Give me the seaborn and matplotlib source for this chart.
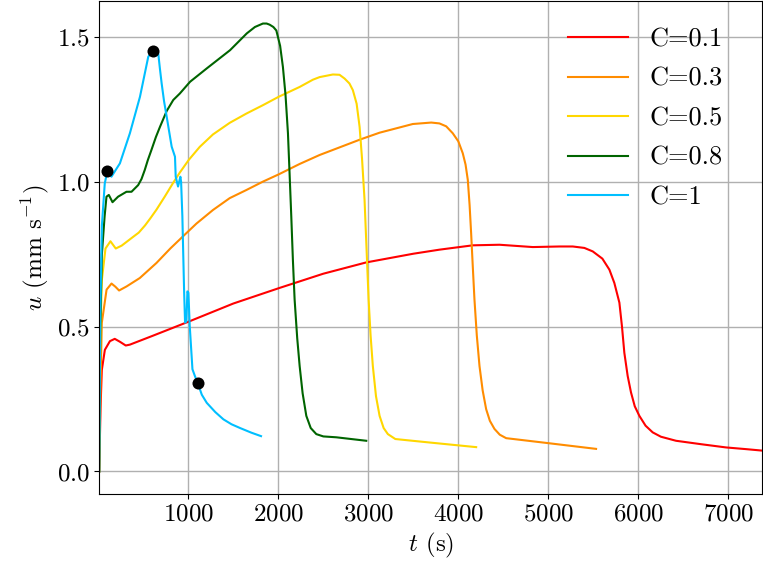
import pandas as pd
import matplotlib
matplotlib.use("Agg")
import matplotlib.pyplot as plt
import seaborn as sns

# -------------------------------------------------------
# Data
# -------------------------------------------------------
t_01 = [10, 25, 39, 73, 129, 183, 240, 305, 351, 600, 1016, 1500, 2015, 2500, 2977,
        3500, 3790, 4160, 4457, 4827, 5123, 5271, 5400, 5493, 5600, 5678, 5733, 5789,
        5818, 5844, 5881, 5918, 5960, 6011, 6080, 6159, 6250, 6418, 6700, 6973, 7200,
        7376]
u_01 = [0.0, 0.22, 0.35, 0.42, 0.45, 0.458, 0.448, 0.435, 0.438, 0.468, 0.519, 0.58,
        0.634, 0.683, 0.722, 0.752, 0.766, 0.781, 0.783, 0.775, 0.777, 0.777, 0.772,
        0.760, 0.735, 0.697, 0.651, 0.583, 0.50, 0.41, 0.33, 0.273, 0.225, 0.192, 0.158,
        0.135, 0.12, 0.106, 0.094, 0.083, 0.077, 0.072]

t_03 = [10, 25, 39, 92, 147, 190, 231, 314, 461, 646, 800, 941, 1090, 1274, 1460, 1645,
        1829, 2004, 2237, 2459, 2914, 3125, 3494, 3699, 3790, 3865, 3938, 4000, 4049,
        4080, 4105, 4125, 4142, 4160, 4179, 4205, 4235, 4270, 4309, 4350, 4401, 4460,
        4531, 4993, 5530]
u_03 = [0.0, 0.3, 0.513, 0.628, 0.649, 0.638, 0.625, 0.639, 0.668, 0.72, 0.77, 0.812,
        0.856, 0.903, 0.944, 0.972, 1.001, 1.026, 1.062, 1.093, 1.147, 1.17, 1.2, 1.205,
        1.202, 1.192, 1.168, 1.14, 1.099, 1.06, 1.007, 0.92, 0.823, 0.71, 0.594, 0.47,
        0.364, 0.28, 0.215, 0.175, 0.147, 0.127, 0.115, 0.098, 0.078]

t_05 = [10, 22, 39, 80, 135, 194, 260, 386, 450, 520, 580, 646, 740, 830, 905, 1005,
        1127, 1274, 1460, 1645, 1829, 2004, 2237, 2384, 2459, 2606, 2680, 2736, 2790,
        2828, 2870, 2903, 2930, 2958, 2980, 3003, 3025, 3050, 3085, 3125, 3170, 3217,
        3300, 3680, 4198]
u_05 = [0.0, 0.45, 0.66, 0.77, 0.795, 0.77, 0.78, 0.81, 0.825, 0.85, 0.875, 0.904,
        0.95, 0.996, 1.032, 1.076, 1.121, 1.164, 1.204, 1.236, 1.265, 1.294, 1.328,
        1.353, 1.362, 1.371, 1.37, 1.357, 1.34, 1.317, 1.27, 1.19, 1.08, 0.938, 0.77,
        0.594, 0.47, 0.364, 0.26, 0.192, 0.15, 0.129, 0.112, 0.10, 0.084]

t_08 = [10, 22, 40, 70, 91, 117, 158, 220, 313, 369, 443, 480, 516, 550, 590, 640,
        685, 760, 833, 905, 1020, 1205, 1464, 1650, 1740, 1829, 1870, 1904, 1945, 1978,
        2020, 2051, 2080, 2107, 2125, 2144, 2162, 2181, 2210, 2237, 2270, 2311, 2360,
        2422, 2500, 2644, 2977]
u_08 = [0.0, 0.5, 0.75, 0.88, 0.949, 0.955, 0.93, 0.949, 0.966, 0.966, 0.989, 1.01,
        1.041, 1.075, 1.11, 1.155, 1.19, 1.245, 1.283, 1.305, 1.346, 1.392, 1.455, 1.513,
        1.535, 1.547, 1.547, 1.543, 1.535, 1.523, 1.47, 1.397, 1.3, 1.168, 1.03, 0.881,
        0.73, 0.594, 0.46, 0.364, 0.27, 0.192, 0.15, 0.129, 0.121, 0.118, 0.106]

t_1 = [10, 22, 40, 72, 102, 146, 240, 351, 463, 555, 604, 625, 645, 666, 685, 704,
       730, 760, 815, 852, 860, 886, 912, 920, 934, 953, 964, 979, 990, 1001, 1016,
       1046, 1074, 1104, 1150, 1205, 1300, 1390, 1480, 1575, 1700, 1808]
u_1 = [0.0, 0.55, 0.85, 0.995, 1.039, 1.018, 1.064, 1.168, 1.294, 1.432, 1.453, 1.46,
       1.455, 1.444, 1.39, 1.34, 1.28, 1.225, 1.122, 1.087, 1.018, 0.984, 1.018, 1.0,
       0.881, 0.628, 0.514, 0.519, 0.622, 0.617, 0.502, 0.353, 0.329, 0.306, 0.265,
       0.237, 0.205, 0.18, 0.163, 0.15, 0.134, 0.122]

labels = ['C=0.1', 'C=0.3', 'C=0.5', 'C=0.8', 'C=1']
colors = ['#ff0000', '#ff8c00', '#ffd700', '#006400', '#00bfff']

# marked points on the C=1 curve
dot_t = [102, 604, 1104]
dot_u = [1.039, 1.453, 0.306]

frames = []
for lab, t, u in zip(labels, [t_01, t_03, t_05, t_08, t_1], [u_01, u_03, u_05, u_08, u_1]):
    frames.append(pd.DataFrame({'t': t, 'u': u, 'C': lab}))
df = pd.concat(frames, ignore_index=True)

# -------------------------------------------------------
# Style
# -------------------------------------------------------
plt.rcParams['font.family'] = 'serif'
plt.rcParams['font.serif'] = ['cmr10']
plt.rcParams['mathtext.fontset'] = 'cm'
plt.rcParams['axes.unicode_minus'] = False
plt.rcParams['axes.formatter.use_mathtext'] = True

fig, ax = plt.subplots(figsize=(7.63, 5.67), dpi=100)
fig.subplots_adjust(left=0.13, right=0.999, bottom=0.129, top=0.998)

sns.lineplot(data=df, x='t', y='u', hue='C', hue_order=labels, palette=colors,
             estimator=None, sort=False, linewidth=1.5, ax=ax)
sns.scatterplot(x=dot_t, y=dot_u, color='black', s=75, linewidth=0, zorder=5,
                ax=ax, legend=False)

ax.set_xlim(min(t_01), max(t_01))
ax.set_xticks([1000, 2000, 3000, 4000, 5000, 6000, 7000])
ax.set_yticks([0.0, 0.5, 1.0, 1.5])
ax.grid(True, color='#b0b0b0', linewidth=1)
ax.set_axisbelow(True)
ax.tick_params(labelsize=18)
ax.set_xlabel(r'$t$ (s)', fontsize=18)
ax.set_ylabel(r'$u$ (mm s$^{-1}$)', fontsize=18)
for s in ax.spines.values():
    s.set_color('black')

leg = ax.legend(loc='upper right', bbox_to_anchor=(0.957, 0.968), borderaxespad=0,
                frameon=False, fontsize=19, handlelength=2.27, handletextpad=0.83,
                labelspacing=0.6)

plt.savefig('out.png', dpi=100)
